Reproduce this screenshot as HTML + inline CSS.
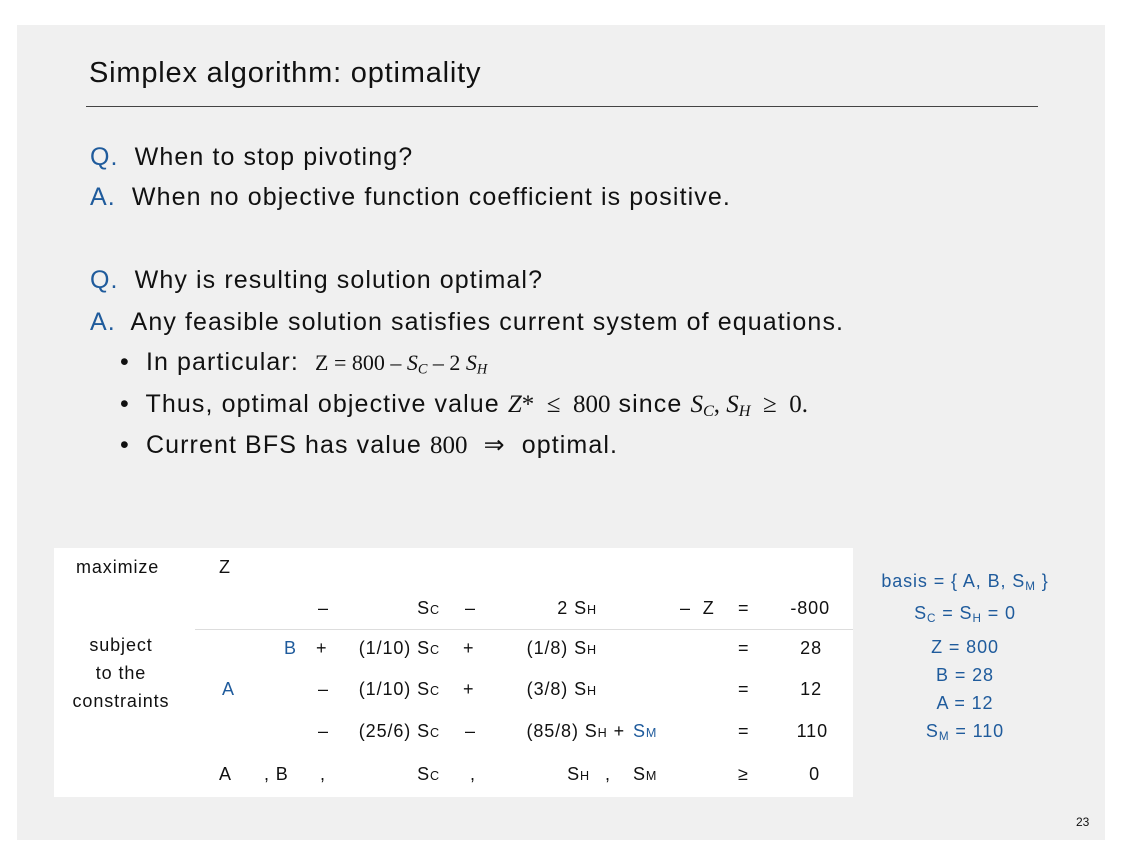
<!DOCTYPE html>
<html><head><meta charset="utf-8">
<style>
body{margin:0;width:1122px;height:867px;background:#fff;position:relative;overflow:hidden;font-family:"Liberation Sans",sans-serif;}
#slide{position:absolute;left:17px;top:25px;width:1088px;height:815px;background:#f0f0f0;}
.t{position:absolute;white-space:nowrap;line-height:1;color:#111;}
.b{font-size:25px;letter-spacing:1.1px;}
.blue{color:#1f5b9c;}
.m{font-family:"Liberation Serif",serif;letter-spacing:0;}
.i{font-style:italic;}
sub{font-size:65%;vertical-align:-0.25em;}
.tb{font-size:18px;letter-spacing:0.9px;}
.sc{font-size:70%;}
.r{text-align:right;}
</style></head><body>
<div id="slide"></div>
<div class="t" style="left:89px;top:59px;font-size:29px;letter-spacing:0.8px;">Simplex algorithm: optimality</div>
<div style="position:absolute;left:86px;top:106px;width:952px;height:1px;background:#444;"></div>

<div class="t b" style="left:90px;top:145px;"><span class="blue">Q.</span>&nbsp; When to stop pivoting?</div>
<div class="t b" style="left:90px;top:185px;"><span class="blue">A.</span>&nbsp; When no objective function coefficient is positive.</div>
<div class="t b" style="left:90px;top:268px;"><span class="blue">Q.</span>&nbsp; Why is resulting solution optimal?</div>
<div class="t b" style="left:90px;top:310px;"><span class="blue">A.</span>&nbsp; Any feasible solution satisfies current system of equations.</div>
<div class="t b" style="left:120px;top:350px;">•&nbsp; In particular:&nbsp; <span class="m" style="font-size:22px">Z = 800 – <i>S<sub>C</sub></i> – 2 <i>S<sub>H</sub></i></span></div>
<div class="t b" style="left:120px;top:392px;">•&nbsp; Thus, optimal objective value <span class="m"><i>Z</i>* &nbsp;≤&nbsp; 800</span> since <span class="m"><i>S<sub>C</sub></i>, <i>S<sub>H</sub></i> &nbsp;≥&nbsp; 0.</span></div>
<div class="t b" style="left:120px;top:433px;">•&nbsp; Current BFS has value <span class="m">800</span>&nbsp; ⇒&nbsp; optimal.</div>

<div style="position:absolute;left:54px;top:548px;width:799px;height:249px;background:#fff;"></div>
<div style="position:absolute;left:195px;top:629px;width:658px;height:1px;background:#ddd;"></div>

<div class="t tb" style="left:76px;top:558px;">maximize</div>
<div class="t tb" style="left:219px;top:558px;">Z</div>
<div class="t tb" style="left:61px;top:631px;width:120px;text-align:center;line-height:28px;">subject<br>to the<br>constraints</div>

<div class="t tb" style="left:318px;top:599px;">–</div>
<div class="t tb r" style="left:340px;width:100px;top:599px;">S<span class="sc">C</span></div>
<div class="t tb" style="left:465px;top:599px;">–</div>
<div class="t tb r" style="left:500px;width:97px;top:599px;">2 S<span class="sc">H</span></div>
<div class="t tb" style="left:680px;top:599px;">–&nbsp; Z</div>
<div class="t tb" style="left:738px;top:599px;">=</div>
<div class="t tb r" style="left:760px;width:70px;top:599px;">-800</div>

<div class="t tb blue" style="left:284px;top:639px;">B</div>
<div class="t tb" style="left:316px;top:639px;">+</div>
<div class="t tb r" style="left:340px;width:100px;top:639px;">(1/10) S<span class="sc">C</span></div>
<div class="t tb" style="left:463px;top:639px;">+</div>
<div class="t tb r" style="left:500px;width:97px;top:639px;">(1/8) S<span class="sc">H</span></div>
<div class="t tb" style="left:738px;top:639px;">=</div>
<div class="t tb r" style="left:760px;width:62px;top:639px;">28</div>

<div class="t tb blue" style="left:222px;top:680px;">A</div>
<div class="t tb" style="left:318px;top:680px;">–</div>
<div class="t tb r" style="left:340px;width:100px;top:680px;">(1/10) S<span class="sc">C</span></div>
<div class="t tb" style="left:463px;top:680px;">+</div>
<div class="t tb r" style="left:500px;width:97px;top:680px;">(3/8) S<span class="sc">H</span></div>
<div class="t tb" style="left:738px;top:680px;">=</div>
<div class="t tb r" style="left:760px;width:62px;top:680px;">12</div>

<div class="t tb" style="left:318px;top:722px;">–</div>
<div class="t tb r" style="left:340px;width:100px;top:722px;">(25/6) S<span class="sc">C</span></div>
<div class="t tb" style="left:465px;top:722px;">–</div>
<div class="t tb r" style="left:480px;width:145px;top:722px;">(85/8) S<span class="sc">H</span> +</div>
<div class="t tb blue" style="left:633px;top:722px;">S<span class="sc">M</span></div>
<div class="t tb" style="left:738px;top:722px;">=</div>
<div class="t tb r" style="left:760px;width:68px;top:722px;">110</div>

<div class="t tb" style="left:219px;top:765px;">A</div>
<div class="t tb" style="left:264px;top:765px;">, B</div>
<div class="t tb" style="left:320px;top:765px;">,</div>
<div class="t tb r" style="left:340px;width:100px;top:765px;">S<span class="sc">C</span></div>
<div class="t tb" style="left:470px;top:765px;">,</div>
<div class="t tb r" style="left:500px;width:90px;top:765px;">S<span class="sc">H</span></div>
<div class="t tb" style="left:605px;top:765px;">,</div>
<div class="t tb" style="left:633px;top:765px;">S<span class="sc">M</span></div>
<div class="t tb" style="left:738px;top:765px;">≥</div>
<div class="t tb r" style="left:760px;width:60px;top:765px;">0</div>

<div class="t tb blue" style="left:865px;width:200px;text-align:center;top:572px;">basis = { A, B, S<sub>M</sub> }</div>
<div class="t tb blue" style="left:865px;width:200px;text-align:center;top:604px;">S<sub>C</sub> = S<sub>H</sub> = 0</div>
<div class="t tb blue" style="left:865px;width:200px;text-align:center;top:638px;">Z = 800</div>
<div class="t tb blue" style="left:865px;width:200px;text-align:center;top:666px;">B = 28</div>
<div class="t tb blue" style="left:865px;width:200px;text-align:center;top:694px;">A = 12</div>
<div class="t tb blue" style="left:865px;width:200px;text-align:center;top:722px;">S<sub>M</sub> = 110</div>

<div class="t" style="left:1076px;top:816px;font-size:12px;">23</div>
</body></html>
